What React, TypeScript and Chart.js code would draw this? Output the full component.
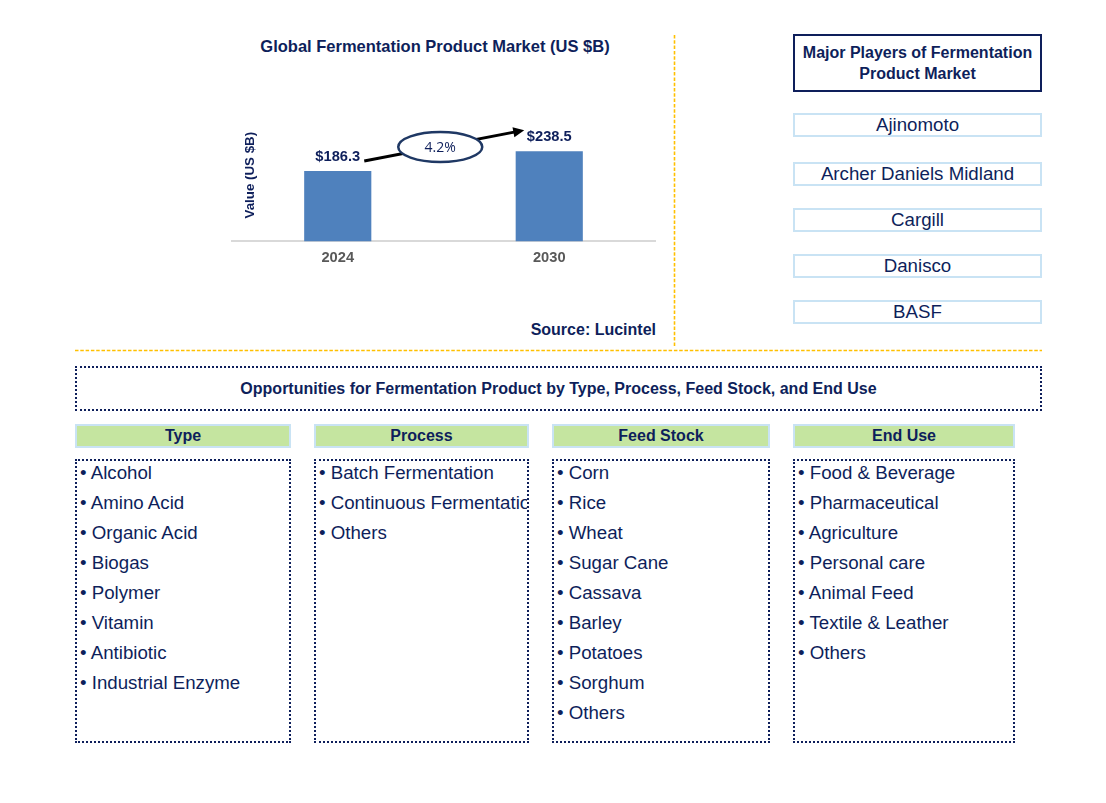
import React, { useEffect, useRef } from "react";
import { Chart, registerables } from "chart.js";

Chart.register(...registerables);

const years = ["2024", "2030"];
const marketValues = [186.3, 238.5];
const valueLabels = ["$186.3", "$238.5"];
const cagrLabel = "4.2%";
const chartTitle = "Global Fermentation Product Market (US $B)";
const yAxisTitle = "Value (US $B)";
const sourceText = "Source: Lucintel";
const playersTitle = ["Major Players of Fermentation", "Product Market"];
const majorPlayers = ["Ajinomoto", "Archer Daniels Midland", "Cargill", "Danisco", "BASF"];
const opportunitiesTitle =
  "Opportunities for Fermentation Product by Type, Process, Feed Stock, and End Use";
const segmentNames = ["Type", "Process", "Feed Stock", "End Use"];
const typeItems = [
  "Alcohol",
  "Amino Acid",
  "Organic Acid",
  "Biogas",
  "Polymer",
  "Vitamin",
  "Antibiotic",
  "Industrial Enzyme",
];
const processItems = ["Batch Fermentation", "Continuous Fermentation", "Others"];
const feedStockItems = [
  "Corn",
  "Rice",
  "Wheat",
  "Sugar Cane",
  "Cassava",
  "Barley",
  "Potatoes",
  "Sorghum",
  "Others",
];
const endUseItems = [
  "Food & Beverage",
  "Pharmaceutical",
  "Agriculture",
  "Personal care",
  "Animal Feed",
  "Textile & Leather",
  "Others",
];

const NAVY = "#0e1f5b";
const FONT = "'Liberation Sans', Arial, sans-serif";
const BAR = "#4f81bd";

const annotationPlugin = {
  id: "fermentAnnotations",
  afterDatasetsDraw(chart: any) {
    const ctx = chart.ctx;
    const meta = chart.getDatasetMeta(0);
    const area = chart.chartArea;
    ctx.save();
    // value labels
    ctx.font = `bold 14.67px ${FONT}`;
    ctx.fillStyle = NAVY;
    ctx.textAlign = "center";
    ctx.textBaseline = "middle";
    meta.data.forEach((bar: any, i: number) => {
      ctx.fillText(valueLabels[i], bar.x, bar.y - 14);
    });
    // y axis title
    ctx.save();
    ctx.translate(area.left + 18, (area.top + area.bottom) / 2);
    ctx.rotate(-Math.PI / 2);
    ctx.font = `bold 13.33px ${FONT}`;
    ctx.fillText(yAxisTitle, 0, 0);
    ctx.restore();
    // arrow
    const b0 = meta.data[0];
    const b1 = meta.data[1];
    const x0 = b0.x + 26.5;
    const y0 = b0.y - 10;
    const x1 = b1.x - 25;
    const y1 = b1.y - 21;
    const ang = Math.atan2(y1 - y0, x1 - x0);
    const headLen = 11;
    const headW = 5;
    ctx.strokeStyle = "#000";
    ctx.lineWidth = 3;
    ctx.beginPath();
    ctx.moveTo(x0, y0);
    ctx.lineTo(x1 - Math.cos(ang) * (headLen - 2), y1 - Math.sin(ang) * (headLen - 2));
    ctx.stroke();
    ctx.fillStyle = "#000";
    ctx.beginPath();
    ctx.moveTo(x1, y1);
    ctx.lineTo(
      x1 - Math.cos(ang) * headLen + Math.sin(ang) * headW,
      y1 - Math.sin(ang) * headLen - Math.cos(ang) * headW
    );
    ctx.lineTo(
      x1 - Math.cos(ang) * headLen - Math.sin(ang) * headW,
      y1 - Math.sin(ang) * headLen + Math.cos(ang) * headW
    );
    ctx.closePath();
    ctx.fill();
    // ellipse with CAGR
    const cx = (x0 + x1) / 2 - 4;
    const cy = (y0 + y1) / 2 + 1.5;
    ctx.beginPath();
    ctx.ellipse(cx, cy, 42, 15, 0, 0, Math.PI * 2);
    ctx.fillStyle = "#fff";
    ctx.fill();
    ctx.lineWidth = 2.5;
    ctx.strokeStyle = "#1f3864";
    ctx.stroke();
    ctx.fillStyle = NAVY;
    ctx.font = `14px 'Open Sans', ${FONT}`;
    ctx.fillText(cagrLabel, cx, cy + 1);
    ctx.restore();
  },
};

function BarChart() {
  const ref = useRef<HTMLCanvasElement | null>(null);
  useEffect(() => {
    if (!ref.current) return;
    const chart = new Chart(ref.current, {
      type: "bar",
      data: {
        labels: years,
        datasets: [
          {
            data: marketValues,
            backgroundColor: BAR,
            borderWidth: 0,
            barPercentage: 0.635,
            categoryPercentage: 0.5,
          },
        ],
      },
      options: {
        responsive: false,
        maintainAspectRatio: false,
        animation: false,
        events: [],
        layout: { padding: { left: 10, right: 10, top: 29, bottom: 5 } },
        plugins: {
          legend: { display: false },
          title: { display: false },
          tooltip: { enabled: false },
        },
        scales: {
          x: {
            grid: { display: false, drawTicks: false },
            border: { display: true, color: "#d9d9d9", width: 2 },
            ticks: {
              color: "#595959",
              padding: 8,
              font: { family: FONT, size: 14.67, weight: "bold" },
            },
          },
          y: {
            display: false,
            min: 0,
            max: 350,
          },
        },
      },
      plugins: [annotationPlugin],
    });
    return () => chart.destroy();
  }, []);
  return (
    <canvas
      ref={ref}
      width={443}
      height={200}
      style={{ position: "absolute", left: 222, top: 80, width: 443, height: 200 }}
    />
  );
}

function ListBox({ left, width, items }: { left: number; width: number; items: string[] }) {
  return (
    <div
      style={{
        position: "absolute",
        left,
        top: 459,
        width,
        height: 284,
        boxSizing: "border-box",
        border: `2px dotted ${NAVY}`,
        overflow: "hidden",
        paddingLeft: 3,
      }}
    >
      <div style={{ marginTop: -3 }}>
        {items.map((t) => (
          <div
            key={t}
            style={{
              fontSize: 18.7,
              lineHeight: "30px",
              height: 30,
              whiteSpace: "nowrap",
              color: NAVY,
            }}
          >
            {"\u2022 " + t}
          </div>
        ))}
      </div>
    </div>
  );
}

export default function App() {
  const cols = [
    { left: 75, width: 216, items: typeItems },
    { left: 314, width: 215, items: processItems },
    { left: 552, width: 218, items: feedStockItems },
    { left: 793, width: 222, items: endUseItems },
  ];
  const playerTops = [113, 162, 208, 254, 300];
  return (
    <div
      style={{
        position: "absolute",
        left: 0,
        top: 0,
        width: 1106,
        height: 803,
        background: "#fff",
        fontFamily: FONT,
        color: NAVY,
      }}
    >
      <div
        style={{
          position: "absolute",
          left: 200,
          top: 36,
          width: 470,
          textAlign: "center",
          fontWeight: "bold",
          fontSize: 16.5,
          lineHeight: "20px",
        }}
      >
        {chartTitle}
      </div>
      <BarChart />
      <div
        style={{
          position: "absolute",
          left: 456,
          top: 320,
          width: 200,
          textAlign: "right",
          fontWeight: "bold",
          fontSize: 16,
          lineHeight: "20px",
        }}
      >
        {sourceText}
      </div>
      <svg
        style={{ position: "absolute", left: 673, top: 35 }}
        width={3}
        height={312}
      >
        <line x1={1.5} y1={0} x2={1.5} y2={312} stroke="#ffc000" strokeWidth={1.6} strokeDasharray="3.5 1.8" />
      </svg>
      <svg
        style={{ position: "absolute", left: 75, top: 349 }}
        width={967}
        height={3}
      >
        <line x1={0} y1={1.5} x2={967} y2={1.5} stroke="#ffc000" strokeWidth={1.6} strokeDasharray="3.5 1.8" />
      </svg>
      <div
        style={{
          position: "absolute",
          left: 793,
          top: 34,
          width: 249,
          height: 58,
          boxSizing: "border-box",
          border: `2px solid ${NAVY}`,
          display: "flex",
          flexDirection: "column",
          alignItems: "center",
          justifyContent: "center",
          fontWeight: "bold",
          fontSize: 16,
          lineHeight: "21px",
          textAlign: "center",
        }}
      >
        {playersTitle.map((l) => (
          <div key={l}>{l}</div>
        ))}
      </div>
      {majorPlayers.map((p, i) => (
        <div
          key={p}
          style={{
            position: "absolute",
            left: 793,
            top: playerTops[i],
            width: 249,
            height: 24,
            boxSizing: "border-box",
            border: "2px solid #c9e3f4",
            display: "flex",
            alignItems: "center",
            justifyContent: "center",
            fontSize: 18.7,
            lineHeight: "20px",
          }}
        >
          {p}
        </div>
      ))}
      <div
        style={{
          position: "absolute",
          left: 75,
          top: 366,
          width: 967,
          height: 45,
          boxSizing: "border-box",
          border: `2px dotted ${NAVY}`,
          display: "flex",
          alignItems: "center",
          justifyContent: "center",
          fontWeight: "bold",
          fontSize: 16,
        }}
      >
        {opportunitiesTitle}
      </div>
      {cols.map((c, i) => (
        <React.Fragment key={segmentNames[i]}>
          <div
            style={{
              position: "absolute",
              left: c.left,
              top: 424,
              width: c.width,
              height: 24,
              boxSizing: "border-box",
              border: "2px solid #c9e3f4",
              background: "#c5e5a0",
              display: "flex",
              alignItems: "center",
              justifyContent: "center",
              fontWeight: "bold",
              fontSize: 16,
            }}
          >
            {segmentNames[i]}
          </div>
          <ListBox left={c.left} width={c.width} items={c.items} />
        </React.Fragment>
      ))}
    </div>
  );
}
